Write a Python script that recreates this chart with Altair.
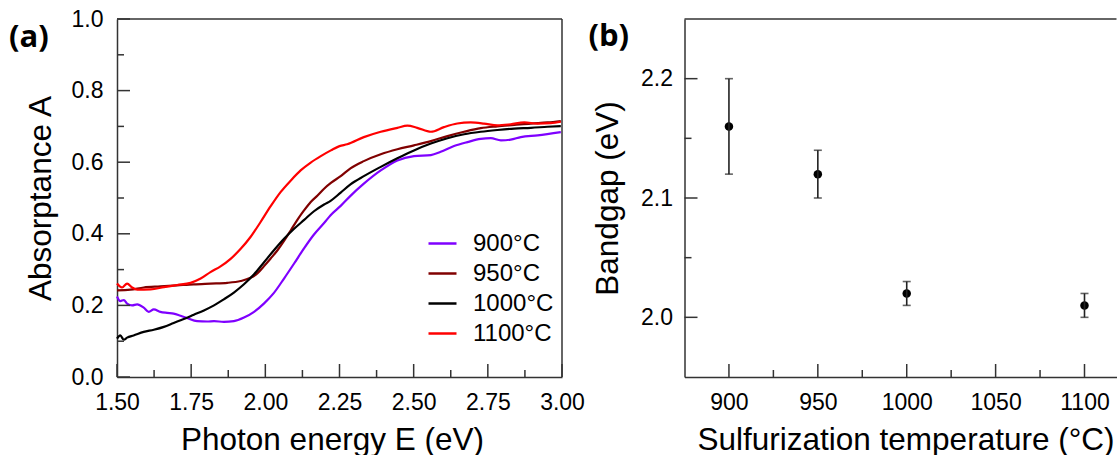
import altair as alt
import pandas as pd

# ---------------- data ----------------
series_names = ["900°C", "950°C", "1000°C", "1100°C"]
series_colors = ["#7F00FF", "#800000", "#000000", "#FF0000"]

e900 = [1.500, 1.511, 1.523, 1.534, 1.551, 1.568, 1.590, 1.607, 1.624, 1.646, 1.669, 1.691, 1.714, 1.736,
        1.770, 1.804, 1.827, 1.860, 1.894, 1.928, 1.962, 1.995, 2.029, 2.063, 2.097, 2.131, 2.164, 2.198,
        2.220, 2.254, 2.287, 2.332, 2.389, 2.445, 2.501, 2.558, 2.591, 2.636, 2.681, 2.726, 2.760, 2.794,
        2.827, 2.861, 2.918, 2.996]
a900 = [0.225, 0.212, 0.215, 0.205, 0.200, 0.203, 0.194, 0.182, 0.189, 0.182, 0.179, 0.177, 0.171, 0.165,
        0.156, 0.155, 0.156, 0.154, 0.156, 0.166, 0.182, 0.205, 0.235, 0.275, 0.317, 0.360, 0.398, 0.430,
        0.452, 0.478, 0.506, 0.540, 0.577, 0.605, 0.617, 0.620, 0.629, 0.645, 0.656, 0.665, 0.667, 0.661,
        0.663, 0.670, 0.675, 0.684]

e950 = [1.500, 1.545, 1.590, 1.646, 1.703, 1.759, 1.815, 1.872, 1.917, 1.950, 1.973, 1.995, 2.018, 2.041,
        2.063, 2.086, 2.108, 2.131, 2.153, 2.176, 2.198, 2.221, 2.254, 2.287, 2.332, 2.389, 2.445, 2.501,
        2.558, 2.614, 2.670, 2.726, 2.782, 2.839, 2.895, 2.951, 2.996]
a950 = [0.242, 0.244, 0.250, 0.253, 0.256, 0.259, 0.261, 0.263, 0.268, 0.277, 0.289, 0.309, 0.331, 0.354,
        0.380, 0.410, 0.439, 0.466, 0.489, 0.507, 0.526, 0.542, 0.561, 0.583, 0.603, 0.622, 0.636, 0.647,
        0.659, 0.673, 0.685, 0.695, 0.700, 0.704, 0.708, 0.711, 0.715]

e1000 = [1.500, 1.511, 1.523, 1.534, 1.556, 1.590, 1.624, 1.658, 1.691, 1.725, 1.759, 1.793, 1.827, 1.860,
         1.894, 1.928, 1.962, 1.995, 2.029, 2.063, 2.097, 2.131, 2.164, 2.198, 2.220, 2.254, 2.287, 2.332,
         2.389, 2.445, 2.501, 2.558, 2.614, 2.670, 2.726, 2.782, 2.839, 2.895, 2.951, 2.996]
a1000 = [0.107, 0.116, 0.104, 0.110, 0.116, 0.126, 0.132, 0.140, 0.151, 0.162, 0.174, 0.186, 0.200, 0.217,
         0.236, 0.259, 0.287, 0.320, 0.354, 0.386, 0.414, 0.439, 0.463, 0.482, 0.492, 0.515, 0.538, 0.561,
         0.587, 0.611, 0.633, 0.652, 0.667, 0.678, 0.685, 0.690, 0.694, 0.696, 0.699, 0.701]

e1100 = [1.500, 1.517, 1.534, 1.551, 1.568, 1.613, 1.658, 1.703, 1.748, 1.782, 1.815, 1.849, 1.883, 1.917,
         1.950, 1.984, 2.018, 2.052, 2.086, 2.119, 2.153, 2.187, 2.221, 2.250, 2.276, 2.332, 2.389, 2.445,
         2.479, 2.512, 2.558, 2.602, 2.647, 2.692, 2.737, 2.782, 2.827, 2.873, 2.918, 2.962, 2.996]
a1100 = [0.261, 0.250, 0.261, 0.250, 0.244, 0.245, 0.251, 0.257, 0.263, 0.275, 0.293, 0.309, 0.330, 0.358,
         0.391, 0.433, 0.477, 0.517, 0.549, 0.577, 0.599, 0.617, 0.633, 0.645, 0.650, 0.670, 0.685, 0.696,
         0.702, 0.696, 0.685, 0.698, 0.708, 0.711, 0.708, 0.703, 0.706, 0.711, 0.708, 0.709, 0.713]

temps = [900, 950, 1000, 1100]
bandgap = [2.16, 2.12, 2.02, 2.01]
bandgap_err = [0.04, 0.02, 0.01, 0.01]

# axis tick values
xa_major = [1.5, 1.75, 2.0, 2.25, 2.5, 2.75, 3.0]
xa_minor = [1.625, 1.875, 2.125, 2.375, 2.625, 2.875]
ya_major = [0.0, 0.2, 0.4, 0.6, 0.8, 1.0]
ya_minor = [0.1, 0.3, 0.5, 0.7, 0.9]
xb_major = [900, 950, 1000, 1050, 1100]
xb_minor = [925, 975, 1025, 1075]
yb_major = [2.0, 2.1, 2.2]
yb_minor = [2.05, 2.15]

# ---------------- build tables ----------------
rows = []
for name, xs, ys in zip(series_names, [e900, e950, e1000, e1100], [a900, a950, a1000, a1100]):
    for x, y in zip(xs, ys):
        rows.append({"series": name, "E": x, "A": y})
df_a = pd.DataFrame(rows)

df_b = pd.DataFrame({
    "T": temps,
    "Eg": bandgap,
    "lo": [b - e for b, e in zip(bandgap, bandgap_err)],
    "hi": [b + e for b, e in zip(bandgap, bandgap_err)],
})

FONT = "Liberation Sans"
AX = "#333333"
W_A, H = 445, 358
W_B = 432
MAJ, MIN = 13, 7

xs_a = alt.Scale(domain=[1.5, 3.0], nice=False, zero=False)
ys_a = alt.Scale(domain=[0.0, 1.0], nice=False, zero=False)
xs_b = alt.Scale(domain=[875, 1118], nice=False, zero=False)
ys_b = alt.Scale(domain=[1.95, 2.25], nice=False, zero=False)


def x_axis(values, fmt, title, tx):
    return alt.Axis(values=values, format=fmt, title=title, ticks=False, grid=False,
                    domain=True, domainColor=AX, domainWidth=1.5,
                    labelFont=FONT, labelFontSize=23, labelColor="black", labelPadding=14,
                    labelFlush=False, labelOverlap=False,
                    titleFont=FONT, titleFontSize=31.5, titleFontWeight="normal", titleColor="black",
                    titleX=tx, titleY=72, titleAlign="center", titleBaseline="alphabetic")


def y_axis(values, fmt, title, pad):
    return alt.Axis(values=values, format=fmt, title=title, ticks=False, grid=False,
                    domain=True, domainColor=AX, domainWidth=1.5,
                    labelFont=FONT, labelFontSize=23, labelColor="black", labelPadding=pad,
                    labelOverlap=False,
                    titleFont=FONT, titleFontSize=31.5, titleFontWeight="normal", titleColor="black",
                    titleX=-76, titleY=H / 2, titleAngle=270, titleAlign="center",
                    titleBaseline="middle")


XA_AX = x_axis(xa_major, ".2f", "Photon energy E (eV)", 215)
YA_AX = y_axis(ya_major, ".1f", "Absorptance A", 14)
XB_AX = x_axis(xb_major, "d", "Sulfurization temperature (°C)", 221)
YB_AX = y_axis(yb_major, ".1f", "Bandgap (eV)", 12)


def xticks(vals, scale, axis, length):
    return alt.Chart(pd.DataFrame({"v": vals})).mark_rule(color=AX, strokeWidth=1.5).encode(
        x=alt.X("v:Q", scale=scale, axis=axis, title=axis.title), y=alt.value(H), y2=alt.value(H - length))


def yticks(vals, scale, axis, length):
    return alt.Chart(pd.DataFrame({"v": vals})).mark_rule(color=AX, strokeWidth=1.5).encode(
        y=alt.Y("v:Q", scale=scale, axis=axis, title=axis.title), x=alt.value(0), x2=alt.value(length))


one = pd.DataFrame({"k": [0]})


def border_top(w):
    return alt.Chart(one).mark_rule(color=AX, strokeWidth=1.5).encode(
        x=alt.value(0), x2=alt.value(w), y=alt.value(0))


def panel_label(txt, dx, dy):
    return alt.Chart(pd.DataFrame({"t": [txt]})).mark_text(
        font="Open Sans", fontSize=31, fontWeight="bold", align="left", baseline="alphabetic",
        color="black").encode(text="t:N", x=alt.value(dx), y=alt.value(dy))


# ---------------- panel (a) ----------------
lines = alt.Chart(df_a).mark_line(strokeWidth=2.2, interpolate="monotone").encode(
    x=alt.X("E:Q", scale=xs_a, axis=XA_AX, title=XA_AX.title),
    y=alt.Y("A:Q", scale=ys_a, axis=YA_AX, title=YA_AX.title),
    color=alt.Color("series:N", sort=series_names,
                    scale=alt.Scale(domain=series_names, range=series_colors),
                    legend=alt.Legend(orient="none", legendX=310, legendY=209, title=None,
                                      symbolType="stroke", symbolSize=784, symbolStrokeWidth=2.5,
                                      labelFont=FONT, labelFontSize=24, labelColor="black",
                                      labelOffset=15, rowPadding=2, padding=0)),
)

border_right_a = alt.Chart(one).mark_rule(color=AX, strokeWidth=1.5).encode(
    x=alt.value(W_A), y=alt.value(0), y2=alt.value(H))

panel_a = alt.layer(
    lines,
    xticks(xa_major, xs_a, XA_AX, MAJ), xticks(xa_minor, xs_a, XA_AX, MIN),
    yticks(ya_major, ys_a, YA_AX, MAJ), yticks(ya_minor, ys_a, YA_AX, MIN),
    border_top(W_A), border_right_a,
    panel_label("(a)", -108, 27.5),
).properties(width=W_A, height=H)

# ---------------- panel (b) ----------------
pts = alt.Chart(df_b).mark_point(filled=True, size=72, color="black", opacity=1).encode(
    x=alt.X("T:Q", scale=xs_b, axis=XB_AX, title=XB_AX.title),
    y=alt.Y("Eg:Q", scale=ys_b, axis=YB_AX, title=YB_AX.title),
)
bars = alt.Chart(df_b).mark_rule(color="#222222", strokeWidth=1.6).encode(
    x=alt.X("T:Q", scale=xs_b, axis=XB_AX, title=XB_AX.title),
    y=alt.Y("lo:Q", scale=ys_b, axis=YB_AX, title=YB_AX.title), y2="hi:Q")
cap_lo = alt.Chart(df_b).mark_tick(color="#222222", thickness=1.6, size=8, orient="horizontal").encode(
    x=alt.X("T:Q", scale=xs_b, axis=XB_AX, title=XB_AX.title),
    y=alt.Y("lo:Q", scale=ys_b, axis=YB_AX, title=YB_AX.title))
cap_hi = alt.Chart(df_b).mark_tick(color="#222222", thickness=1.6, size=8, orient="horizontal").encode(
    x=alt.X("T:Q", scale=xs_b, axis=XB_AX, title=XB_AX.title),
    y=alt.Y("hi:Q", scale=ys_b, axis=YB_AX, title=YB_AX.title))

panel_b = alt.layer(
    pts, bars, cap_lo, cap_hi,
    xticks(xb_major, xs_b, XB_AX, MAJ), xticks(xb_minor, xs_b, XB_AX, MIN),
    yticks(yb_major, ys_b, YB_AX, MAJ), yticks(yb_minor, ys_b, YB_AX, MIN),
    border_top(W_B),
    panel_label("(b)", -96, 27),
).properties(width=W_B, height=H)

chart = alt.hconcat(panel_a, panel_b, spacing=122.5, bounds="flush").properties(
    padding={"left": 9, "top": 8, "right": 0, "bottom": 0}
).configure_view(stroke=None)

chart.save("out.html", embed_options={"renderer": "svg", "actions": False})
